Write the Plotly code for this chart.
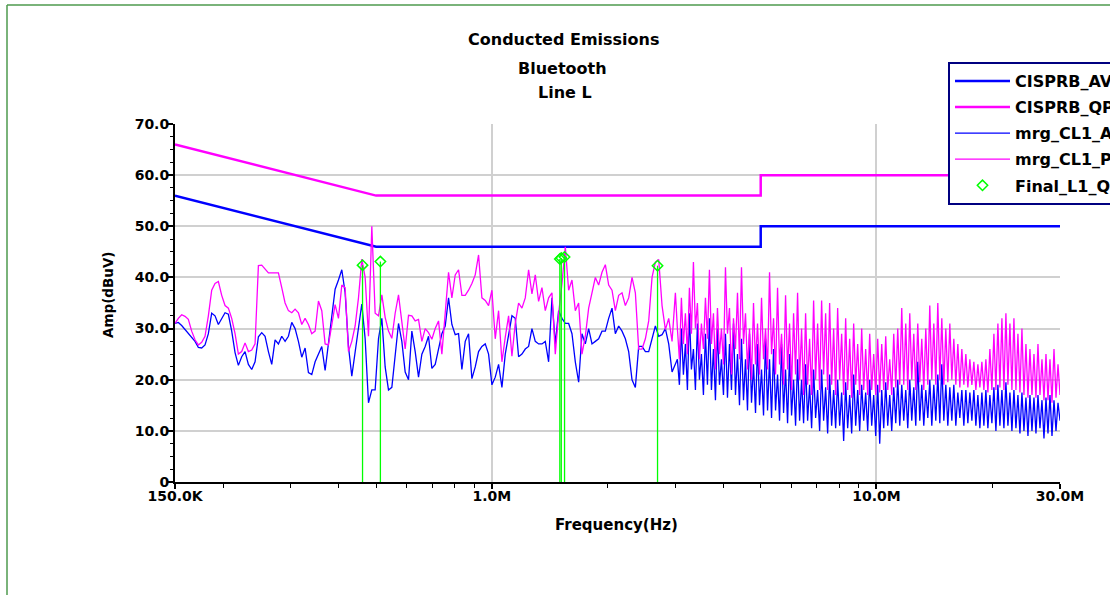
import numpy as np
import plotly.graph_objects as go

# ---------------- data ----------------
# limit lines (Hz, dBuV)
lim_freq = [150e3, 500e3, 5e6, 5e6, 30e6]
lim_av = [56, 46, 46, 50, 50]
lim_qp = [66, 56, 56, 60, 60]

# measurement sweep frequency grid (Hz)
freq_low = list(np.geomspace(150e3, 3e6, 151))
freq_high = list(np.geomspace(3e6, 30e6, 193)[1:])

pk_low = [
    31.0, 32.0, 32.7, 32.4, 31.8, 29.5, 27.8, 26.8, 27.3, 28.5,
    32.5, 37.5, 38.8, 39.2, 36.5, 34.5, 34.0, 32.0, 29.0, 25.0,
    25.5, 27.2, 25.5, 25.8, 27.0, 42.3, 42.4, 41.6, 40.9, 40.9,
    40.9, 40.9, 38.0, 35.0, 33.5, 33.1, 33.8, 33.1, 30.8, 32.0,
    30.8, 29.0, 29.5, 35.4, 33.5, 27.0, 26.8, 30.5, 34.7, 32.0,
    38.5, 38.0, 25.5, 27.5, 30.5, 36.0, 43.6, 40.0, 28.5, 50.0,
    33.0, 32.5, 36.6, 32.2, 29.5, 28.1, 33.0, 36.6, 31.0, 26.0,
    32.6, 32.5, 31.5, 31.8, 27.5, 30.0, 29.2, 27.9, 30.0, 31.5,
    25.0, 32.5, 41.0, 36.0, 40.5, 41.5, 36.5, 36.5, 37.5, 38.8,
    40.5, 44.4, 36.0, 35.5, 34.5, 37.5, 28.0, 33.5, 23.5, 28.3,
    32.5, 24.6, 31.0, 35.0, 34.0, 36.0, 41.5, 36.8, 40.5, 35.3,
    38.0, 33.5, 36.0, 37.0, 25.0, 33.0, 38.8, 46.0, 37.5, 39.5,
    33.5, 35.0, 25.0, 28.5, 34.0, 37.0, 40.0, 38.5, 41.0, 42.5,
    38.5, 37.5, 33.5, 36.5, 37.0, 34.5, 36.0, 40.0, 37.0, 26.0,
    26.0, 28.0, 31.5, 40.0, 43.0, 43.5, 34.5, 29.8, 32.0, 27.5, 37.0,
]
pk_high = [
    30, 24, 36, 27, 33, 25, 38, 29,
    43, 30, 35, 24, 31, 26, 36, 28,
    41.5, 27, 33, 22, 34, 25, 30, 23,
    42, 29, 34, 21, 32, 26, 37, 24,
    42, 27, 33, 22, 30, 20, 35, 23,
    31, 21, 36, 24, 30, 22, 41, 25,
    32, 21, 38, 23, 29, 19, 36.5, 22,
    31, 18, 33, 21, 37, 20, 30, 17,
    33, 19, 28, 17, 35.5, 20, 31, 18,
    35.5, 21, 33, 18, 35, 19, 30, 17,
    34, 20, 29, 17, 32, 18, 28, 16.5,
    31, 19, 27, 17, 30, 18, 26, 17,
    29, 18, 25, 17, 28, 17.5, 27, 18,
    28.5, 18, 24, 17, 29, 18.5, 30, 19,
    34, 19, 31, 18, 33, 20, 29, 18,
    31, 19.5, 28, 18, 30, 19, 34.5, 20,
    31, 19, 35, 20, 32, 19, 30, 19.5,
    31, 20, 28, 19, 27, 18.5, 26, 19,
    25, 18.5, 24, 19, 23.5, 18, 23, 18.5,
    23.5, 18, 24, 17.5, 26, 18, 29, 18,
    31, 18.5, 32, 18, 33, 19, 31, 18,
    32, 18, 29, 17.5, 30, 17, 27, 16.5,
    26, 17, 25, 16.5, 27, 17, 24, 16,
    25, 16, 24, 15.5, 26, 16.5, 23, 17,
]

av_low = [
    31.0, 31.2, 30.6, 29.8, 29.1, 28.4, 27.5, 26.3, 26.2, 26.8,
    29.0, 33.0, 32.5, 30.8, 32.0, 33.1, 32.8, 29.5, 25.3, 22.8,
    24.5, 25.5, 23.0, 22.0, 23.5, 28.4, 29.2, 28.5, 25.5, 23.0,
    27.8, 27.0, 28.5, 27.5, 28.5, 31.2, 30.0, 27.5, 24.4, 26.2,
    21.4, 21.0, 23.5, 25.0, 26.5, 21.8, 27.0, 31.5, 37.7, 39.5,
    41.5, 37.0, 26.5, 20.7, 25.6, 31.0, 34.8, 28.0, 15.5, 18.0,
    18.0, 28.0, 32.0, 22.5, 18.0, 18.5, 25.5, 31.0, 27.5, 21.5,
    20.0, 29.5, 25.5, 20.5, 25.0, 26.5, 28.5, 22.2, 23.0, 26.3,
    29.0, 30.5, 36.0, 30.8, 28.8, 29.0, 22.0, 27.5, 29.0, 20.2,
    22.5, 25.5, 26.5, 27.0, 25.0, 19.0, 20.5, 23.0, 18.5, 25.0,
    28.5, 32.5, 32.0, 24.5, 25.0, 26.0, 26.5, 30.0, 27.5, 27.0,
    27.0, 27.5, 23.5, 36.0, 27.0, 33.5, 32.0, 31.0, 31.0, 29.0,
    23.5, 19.5, 29.0, 27.0, 30.0, 27.0, 27.5, 28.0, 29.5, 29.5,
    32.0, 34.0, 29.0, 30.5, 29.5, 28.0, 25.5, 20.0, 18.5, 26.5,
    26.5, 25.5, 25.5, 28.0, 30.5, 28.5, 28.8, 30.0, 27.0, 21.5, 23.0,
]
av_high = [
    24, 19, 30, 21, 27, 18, 33, 22,
    26, 18, 31, 20, 25, 17, 29, 19,
    32, 18, 26, 16, 30, 19, 24, 17,
    29, 16.5, 27, 18, 31, 17, 25, 15,
    28, 16, 24, 14, 29, 15.5, 23, 13.5,
    27, 15, 22, 13, 28, 14, 24, 12.5,
    26, 14, 21, 12, 27, 13.5, 22, 11.5,
    25, 13, 20, 11, 24, 12, 20, 11.5,
    23, 12, 19, 10.5, 22, 12.5, 18, 10,
    22, 12, 18.5, 9.5, 21, 11, 18, 10.5,
    20, 11, 17.5, 8, 19.5, 10.5, 17, 9.5,
    21, 11, 18, 10, 19, 12, 17.5, 10,
    20, 11, 17, 9, 19, 7.5, 18, 10.5,
    19.5, 11, 17, 10, 18.5, 11.5, 20, 11,
    19, 12, 18, 10.5, 20, 12, 18.5, 11,
    23.5, 12, 19, 11, 18, 12.5, 20, 11,
    19, 12, 21, 11.5, 23, 12, 19, 11,
    18.5, 12, 19, 11, 17.5, 12.5, 18, 11,
    18, 11.5, 17.5, 12, 18, 11, 17, 10.5,
    17.5, 11, 18, 10.5, 17, 11.5, 18.5, 10,
    19, 11, 18, 10.5, 19.5, 11, 17.5, 10,
    18, 10.5, 17, 9.5, 17.5, 10, 16.5, 9,
    17, 10, 16.5, 9.5, 17, 10.5, 16, 8.5,
    16.5, 9.5, 17, 9, 16, 10, 15.5, 12,
]

# final quasi-peak measurements
qp_freq = [0.461e6, 0.513e6, 1.502e6, 1.515e6, 1.545e6, 2.696e6]
qp_val = [42.4, 43.1, 43.6, 43.8, 44.0, 42.3]

x_ticks = [150e3, 1e6, 1e7, 3e7]
x_ticktext = ["150.0K", "1.0M", "10.0M", "30.0M"]
x_minor = [2e5, 3e5, 4e5, 5e5, 6e5, 7e5, 8e5, 9e5,
           2e6, 3e6, 4e6, 5e6, 6e6, 7e6, 8e6, 9e6, 2e7]
y_ticks = [0, 10, 20, 30, 40, 50, 60, 70]
y_ticktext = ["0", "10.0", "20.0", "30.0", "40.0", "50.0", "60.0", "70.0"]

# ---------------- figure ----------------
freq = freq_low + freq_high
pk = pk_low + pk_high
av = av_low + av_high

BLUE = "#0000ff"
MAG = "#ff00ff"
GREEN = "#00ff00"
FONT = "DejaVu Sans"

fig = go.Figure()
fig.add_trace(go.Scatter(x=lim_freq, y=lim_av, mode="lines", name="CISPRB_AV",
                         line=dict(color=BLUE, width=2.5), legendgroup="g1"))
fig.add_trace(go.Scatter(x=lim_freq, y=lim_qp, mode="lines", name="CISPRB_QP",
                         line=dict(color=MAG, width=2.5), legendgroup="g2"))
fig.add_trace(go.Scatter(x=freq, y=av, mode="lines", name="mrg_CL1_AV",
                         line=dict(color=BLUE, width=1.3), legendgroup="g3"))
fig.add_trace(go.Scatter(x=freq, y=pk, mode="lines", name="mrg_CL1_PK",
                         line=dict(color=MAG, width=1.3), legendgroup="g4"))

stem_x, stem_y = [], []
for f, v in zip(qp_freq, qp_val):
    stem_x += [f, f, None]
    stem_y += [0, v, None]
fig.add_trace(go.Scatter(x=stem_x, y=stem_y, mode="lines", xaxis="x2",
                         line=dict(color=GREEN, width=1.3), showlegend=False,
                         legendgroup="g5", hoverinfo="skip"))
fig.add_trace(go.Scatter(x=qp_freq, y=qp_val, mode="markers", name="Final_L1_QP",
                         xaxis="x2", legendgroup="g5",
                         marker=dict(symbol="diamond-open", size=8, color=GREEN,
                                     line=dict(width=1.5, color=GREEN))))

L, R, T, B = 175, 50, 124, 113
W, H = 1110, 595
PW, PH = W - L - R, H - T - B


def px_x(px):
    return (px - L) / PW


def px_y(py):
    return (H - B - py) / PH


xr = [np.log10(150e3), np.log10(30e6)]
tick_font = dict(family=FONT, size=14, color="black", weight="bold")

fig.update_layout(
    width=W, height=H,
    margin=dict(l=L, r=R, t=T, b=B, autoexpand=False),
    paper_bgcolor="white", plot_bgcolor="white",
    showlegend=True,
    xaxis=dict(type="log", range=xr, tickvals=x_ticks, ticktext=x_ticktext,
               showgrid=False, zeroline=False, showline=True, linecolor="black",
               linewidth=2, ticks="outside", ticklen=5, tickwidth=1.5,
               tickcolor="black", tickfont=tick_font, ticklabelstandoff=-5,
               minor=dict(tickvals=x_minor, ticks="outside", ticklen=4,
                          tickwidth=1, tickcolor="black", showgrid=False)),
    xaxis2=dict(type="log", range=xr, overlaying="x", anchor="y", side="bottom",
                tickvals=[1e6, 1e7], showticklabels=False, ticks="",
                showgrid=True, gridcolor="#d0d0d0", gridwidth=2,
                showline=False, zeroline=False),
    yaxis=dict(range=[0, 70], tickvals=y_ticks, ticktext=y_ticktext,
               showgrid=True, gridcolor="#d0d0d0", gridwidth=2, zeroline=False,
               showline=True, linecolor="black", linewidth=2, ticks="outside",
               ticklen=5, tickwidth=1.5, tickcolor="black", tickfont=tick_font,
               ticklabelstandoff=-4,
               minor=dict(dtick=2.5, ticks="outside", ticklen=3, tickwidth=1,
                          tickcolor="black", showgrid=False)),
    legend=dict(x=px_x(948), y=px_y(62), xanchor="left", yanchor="top",
                bgcolor="white", bordercolor="#000080", borderwidth=2,
                font=dict(family=FONT, size=16, color="black", weight="bold"),
                tracegroupgap=2.3, traceorder="grouped", itemwidth=55),
)

title_font = dict(family=FONT, size=16, color="black", weight="bold")
ann = [
    ("Conducted Emissions", 564, 40),
    ("Bluetooth", 562, 69),
    ("Line L", 565, 93),
]
for text, ax, ay in ann:
    fig.add_annotation(text=text, x=px_x(ax), y=px_y(ay), xref="paper", yref="paper",
                       showarrow=False, xanchor="center", yanchor="middle",
                       font=title_font)
fig.add_annotation(text="Frequency(Hz)", x=px_x(616), y=px_y(525), xref="paper",
                   yref="paper", showarrow=False, xanchor="center", yanchor="middle",
                   font=dict(family=FONT, size=15, color="black", weight="bold"))
fig.add_annotation(text="Amp(dBuV)", x=px_x(108), y=px_y(295), xref="paper",
                   yref="paper", showarrow=False, xanchor="center", yanchor="middle",
                   textangle=-90,
                   font=dict(family=FONT, size=13.5, color="black", weight="bold"))

# page frame
frame = dict(color="#4e9a4e", width=1.5)
fig.add_shape(type="line", xref="paper", yref="paper", x0=px_x(7), y0=px_y(5),
              x1=px_x(W + 5), y1=px_y(5), line=frame)
fig.add_shape(type="line", xref="paper", yref="paper", x0=px_x(7), y0=px_y(5),
              x1=px_x(7), y1=px_y(H + 5), line=frame)

fig.write_html("out.html", config={"displayModeBar": False},
               post_script="document.body.style.margin='0px';"
                           "document.body.style.overflow='hidden';")
